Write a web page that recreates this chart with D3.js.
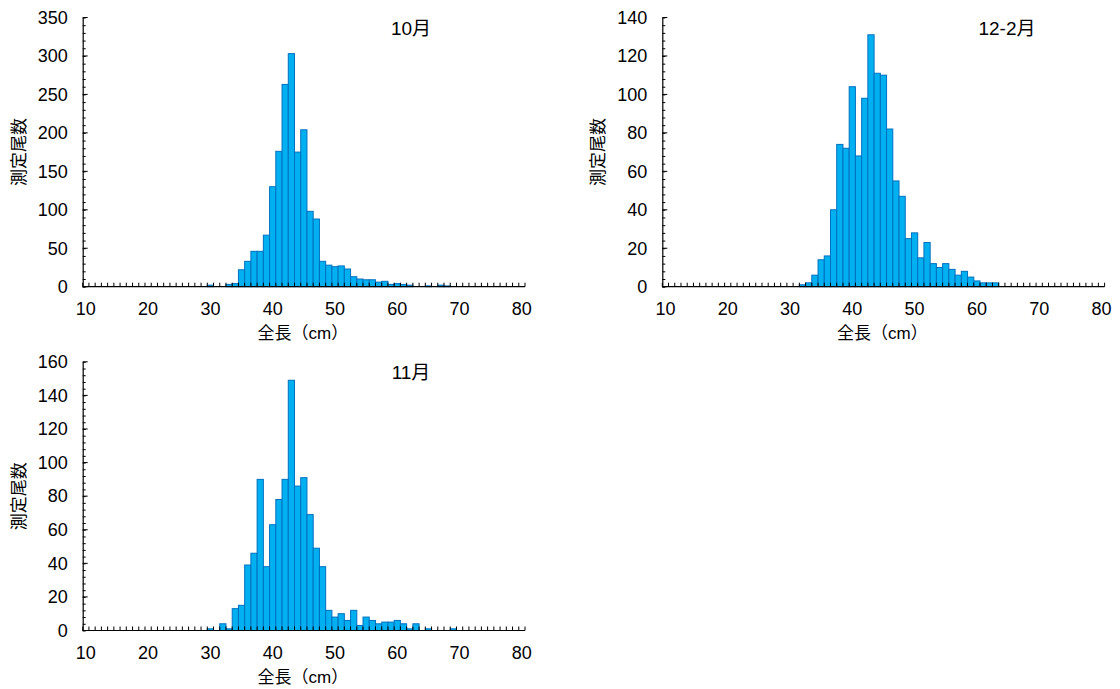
<!DOCTYPE html>
<html>
<head>
<meta charset="utf-8">
<script src="https://cdn.jsdelivr.net/npm/d3@7"></script>
<style>
  html, body { margin: 0; padding: 0; background: #fff; }
  svg { display: block; }
  text { font-family: "Liberation Sans", Arial, "Noto Sans CJK JP", sans-serif; fill: #000; }
</style>
</head>
<body>
<svg id="chart" width="1120" height="689"></svg>
<script>
// Length classes (cm), one category per centimetre
const lengths = d3.range(10, 81);
const tickLabels = [10, 20, 30, 40, 50, 60, 70, 80];

// Counts per length class, starting at 30 cm (classes not listed are 0)
const octCounts = [2, 0, 0, 3, 4, 22, 33, 46, 46, 67, 130, 176, 263, 303, 175, 204, 98, 88, 33, 28,
                   26, 27, 23, 13, 10, 9, 9, 6, 7, 3, 4, 3, 2, 0, 0, 1, 0, 2, 1];
const novCounts = [1, 0, 4, 1, 13, 15, 39, 46, 90, 38, 63, 78, 90, 149, 86, 91, 69, 49, 38, 12,
                   8, 10, 6, 12, 3, 8, 6, 4, 5, 5, 6, 4, 1, 4, 0, 1, 0, 0, 0, 1];
const decFebCounts = [0, 0, 1, 2, 6, 14, 16, 40, 74, 72, 104, 68, 98, 131, 111, 110, 82, 55, 47, 25,
                      28, 15, 23, 12, 10, 12, 9, 6, 8, 5, 3, 2, 2, 2];
const firstClass = 30;

const panelTitles = ["10月", "12-2月", "11月"];
const yAxisTitle = "測定尾数";
const xAxisTitle = "全長（cm）";

const panels = [
  { title: panelTitles[0], counts: octCounts,    yMax: 350, yMajor: 50, yMinor: 10, left: 82.7,  top: 17.5, bottom: 286.7, titleX: 411 },
  { title: panelTitles[1], counts: decFebCounts, yMax: 140, yMajor: 20, yMinor: 4,  left: 662.3, top: 17.5, bottom: 286.7, titleX: 1007 },
  { title: panelTitles[2], counts: novCounts,    yMax: 160, yMajor: 20, yMinor: 4,  left: 82.7,  top: 361.8, bottom: 630.5, titleX: 411 }
];

const svg = d3.select("#chart");
const plotWidth = 442.3;

panels.forEach(p => {
  const data = lengths.map(len => {
    const i = len - firstClass;
    return { len, n: (i >= 0 && i < p.counts.length) ? p.counts[i] : 0 };
  });

  const x = d3.scaleBand().domain(lengths).range([p.left, p.left + plotWidth]).padding(0);
  const y = d3.scaleLinear().domain([0, p.yMax]).range([p.bottom, p.top]);

  const g = svg.append("g");

  // bars
  g.append("g").selectAll("rect")
    .data(data.filter(d => d.n > 0))
    .join("rect")
    .attr("x", d => x(d.len))
    .attr("y", d => y(d.n))
    .attr("width", x.bandwidth())
    .attr("height", d => y(0) - y(d.n))
    .attr("fill", "#00b0f0")
    .attr("stroke", "#0070c0")
    .attr("stroke-width", 1);

  // y axis: minor ticks
  g.append("g")
    .attr("transform", `translate(${p.left},0)`)
    .call(d3.axisRight(y).tickValues(d3.range(0, p.yMax + 0.001, p.yMinor)).tickSize(3).tickFormat(""))
    .call(a => a.select(".domain").remove())
    .selectAll("line").attr("stroke", "#000");

  // y axis: major ticks with labels
  const yAx = g.append("g")
    .attr("transform", `translate(${p.left},0)`)
    .call(d3.axisLeft(y).tickValues(d3.range(0, p.yMax + 0.001, p.yMajor)).tickSize(0).tickPadding(15));
  yAx.select(".domain").attr("stroke", "#000").attr("stroke-width", 1.2);
  yAx.selectAll("text").attr("font-size", 18).style("font-family", '"Liberation Sans", Arial, sans-serif');
  g.append("g").selectAll("line")
    .data(d3.range(0, p.yMax + 0.001, p.yMajor))
    .join("line")
    .attr("x1", p.left).attr("x2", p.left + 5)
    .attr("y1", d => y(d)).attr("y2", d => y(d))
    .attr("stroke", "#000");

  // x axis baseline and category boundary ticks (inward)
  g.append("line")
    .attr("x1", p.left).attr("x2", p.left + plotWidth)
    .attr("y1", p.bottom).attr("y2", p.bottom)
    .attr("stroke", "#000").attr("stroke-width", 1.2);
  const boundaries = lengths.map(l => x(l)).concat([p.left + plotWidth]);
  g.append("g").selectAll("line")
    .data(boundaries)
    .join("line")
    .attr("x1", d => d).attr("x2", d => d)
    .attr("y1", p.bottom).attr("y2", p.bottom - 4)
    .attr("stroke", "#000");

  // x tick labels every 10 cm
  g.append("g").selectAll("text")
    .data(tickLabels)
    .join("text")
    .attr("x", d => x(d) + x.bandwidth() / 2)
    .attr("y", p.bottom + 28)
    .attr("text-anchor", "middle")
    .attr("font-size", 18)
    .text(d => d);

  // axis titles
  g.append("text")
    .attr("x", p.left + plotWidth / 2 - 1)
    .attr("y", p.bottom + 52)
    .attr("text-anchor", "middle")
    .attr("font-size", 17)
    .text(xAxisTitle);

  g.append("text")
    .attr("transform", `translate(${p.left - 58},${(p.top + p.bottom) / 2}) rotate(-90)`)
    .attr("text-anchor", "middle")
    .attr("font-size", 17)
    .text(yAxisTitle);

  // panel title
  g.append("text")
    .attr("x", p.titleX)
    .attr("y", p.top + 17)
    .attr("text-anchor", "middle")
    .attr("font-size", 19)
    .text(p.title);
});
</script>
</body>
</html>
